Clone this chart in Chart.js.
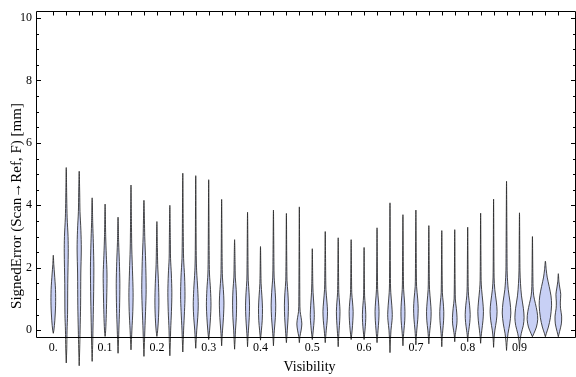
<!DOCTYPE html>
<html>
<head>
<meta charset="utf-8">
<script src="https://cdn.jsdelivr.net/npm/chart.js@4.4.1/dist/chart.umd.min.js"></script>
<style>
  html, body { margin: 0; padding: 0; background: #fff; }
  #wrap { width: 576px; height: 377px; position: relative; }
</style>
</head>
<body>
<div id="wrap"><canvas id="c"></canvas></div>
<script>
// ---- data ----
const visibility = [0.000,0.025,0.050,0.075,0.100,0.125,0.150,0.175,0.200,0.225,
                    0.250,0.275,0.300,0.325,0.350,0.375,0.400,0.425,0.450,0.475,
                    0.500,0.525,0.550,0.575,0.600,0.625,0.650,0.675,0.700,0.725,
                    0.750,0.775,0.800,0.825,0.850,0.875,0.900,0.925,0.950,0.975];
const errMin = [-0.10,-1.05,-1.14,-1.00,-0.20,-0.74,-0.63,-0.84,-0.20,-0.82,
                -0.70,-0.58,-0.30,-0.50,-0.61,-0.53,-0.32,-0.50,-0.40,-0.40,
                -0.30,-0.40,-0.53,-0.30,-0.30,-0.40,-0.72,-0.50,-0.47,-0.44,
                -0.53,-0.37,-0.37,-0.42,-0.55,-0.65,-0.61,-0.21,-0.21,-0.21];
const errMax = [2.40,5.21,5.09,4.24,4.04,3.62,4.65,4.16,3.48,4.00,
                5.03,4.95,4.82,4.19,2.90,3.78,2.68,3.85,3.74,3.95,
                2.61,3.16,2.96,2.90,2.65,3.28,4.08,3.70,3.85,3.35,
                3.19,3.22,3.30,3.75,4.20,4.77,3.76,3.00,2.21,1.81];
// density profile of each violin: [error value, relative density]
const density = [
  [[0,0.6],[0.3,1.5],[0.8,2.3],[1.3,2.2],[1.8,1.2],[2.1,0.5]],
  [[-0.6,0.5],[0,0.8],[0.5,1.3],[1.5,1.5],[2.5,2.0],[3.0,1.8],[3.6,0.9],[4.2,0.5]],
  [[-0.6,0.5],[0,0.9],[0.8,1.4],[1.8,1.6],[2.6,2.1],[3.2,1.7],[3.8,0.8],[4.4,0.5]],
  [[-0.5,0.5],[0,0.8],[1.0,1.4],[2.0,1.7],[2.8,1.2],[3.4,0.6]],
  [[0,0.6],[0.5,1.2],[1.2,1.7],[1.8,1.9],[2.4,1.2],[3.0,0.6]],
  [[-0.3,0.5],[0,0.8],[0.7,1.5],[1.5,1.8],[2.2,1.3],[2.8,0.6]],
  [[-0.3,0.5],[0,0.9],[0.6,1.8],[1.2,2.1],[1.9,1.5],[2.6,0.8],[3.3,0.5]],
  [[-0.4,0.5],[0,0.9],[0.6,1.6],[1.3,2.2],[2.2,1.7],[3.0,0.8],[3.5,0.5]],
  [[0,0.8],[0.4,1.6],[0.9,2.0],[1.5,1.6],[2.1,0.8],[2.6,0.5]],
  [[-0.4,0.5],[0,0.8],[0.6,1.6],[1.2,2.0],[1.8,1.5],[2.3,0.7],[2.9,0.5]],
  [[-0.3,0.5],[0,0.8],[0.6,1.7],[1.1,2.2],[1.7,1.8],[2.3,0.8],[3.0,0.5]],
  [[-0.3,0.5],[0,1.0],[0.4,2.0],[0.8,2.5],[1.3,2.0],[1.9,0.9],[2.4,0.5]],
  [[0,0.9],[0.4,1.8],[0.8,2.3],[1.3,1.8],[1.8,0.8],[2.4,0.5]],
  [[-0.2,0.5],[0,0.9],[0.4,1.8],[0.9,2.3],[1.3,1.7],[1.7,0.8],[2.2,0.5]],
  [[-0.3,0.5],[0,0.9],[0.4,1.7],[0.9,2.0],[1.3,1.6],[1.7,0.7],[2.1,0.5]],
  [[-0.2,0.5],[0,0.9],[0.4,1.7],[0.8,2.0],[1.2,1.5],[1.6,0.7],[2.0,0.5]],
  [[0,0.9],[0.3,1.7],[0.7,2.0],[1.1,1.4],[1.5,0.6]],
  [[-0.2,0.5],[0,0.9],[0.4,1.9],[0.8,2.3],[1.2,1.8],[1.7,0.7],[2.1,0.5]],
  [[-0.2,0.5],[0,0.9],[0.4,1.7],[0.8,2.0],[1.2,1.5],[1.6,0.6]],
  [[-0.2,0.6],[0,1.8],[0.2,2.5],[0.4,1.8],[0.6,0.8],[0.9,0.5]],
  [[0,1.0],[0.3,1.8],[0.5,2.0],[0.8,1.6],[1.2,0.8],[1.5,0.5]],
  [[-0.2,0.5],[0,1.0],[0.3,1.9],[0.6,2.3],[0.9,1.7],[1.3,0.7],[1.6,0.5]],
  [[-0.2,0.5],[0,0.9],[0.3,1.5],[0.6,1.8],[0.9,1.3],[1.2,0.6]],
  [[0,1.0],[0.3,1.7],[0.6,2.0],[0.9,1.4],[1.2,0.6]],
  [[0,0.9],[0.25,1.5],[0.5,1.7],[0.8,1.2],[1.1,0.5]],
  [[-0.2,0.5],[0,1.0],[0.3,1.7],[0.6,2.0],[0.9,1.5],[1.3,0.6]],
  [[-0.3,0.5],[0,1.0],[0.3,2.0],[0.5,2.3],[0.8,1.8],[1.2,0.8],[1.5,0.5]],
  [[-0.2,0.5],[0,1.0],[0.3,1.8],[0.6,2.0],[0.9,1.6],[1.3,0.7],[1.6,0.5]],
  [[-0.2,0.5],[0,0.9],[0.35,1.9],[0.7,2.3],[1.0,1.8],[1.4,0.7],[1.7,0.5]],
  [[-0.2,0.5],[0,1.0],[0.3,2.0],[0.6,2.3],[0.9,1.7],[1.3,0.7],[1.6,0.5]],
  [[-0.2,0.5],[0,1.0],[0.3,1.8],[0.6,2.0],[0.9,1.4],[1.2,0.6]],
  [[-0.15,0.5],[0,1.2],[0.2,2.1],[0.4,2.3],[0.7,1.6],[1.0,0.6]],
  [[-0.15,0.5],[0,1.1],[0.25,2.1],[0.5,2.5],[0.8,1.9],[1.1,0.9],[1.4,0.5]],
  [[-0.2,0.5],[0,1.2],[0.3,2.3],[0.6,2.8],[0.9,2.2],[1.3,1.0],[1.6,0.5]],
  [[-0.25,0.5],[0,1.3],[0.3,2.8],[0.6,3.5],[0.9,2.8],[1.3,1.2],[1.7,0.5]],
  [[-0.4,0.5],[-0.1,1.5],[0.2,3.2],[0.55,4.3],[0.9,3.5],[1.3,1.7],[1.8,0.7],[2.3,0.5]],
  [[-0.35,0.5],[-0.1,1.8],[0.15,3.8],[0.4,4.6],[0.7,3.9],[1.1,2.0],[1.5,1.0],[1.9,0.5]],
  [[-0.1,1.5],[0.1,4.0],[0.35,5.3],[0.6,4.6],[0.85,3.0],[1.1,1.3],[1.4,0.6]],
  [[-0.1,1.0],[0.1,3.0],[0.4,5.0],[0.8,6.2],[1.1,5.6],[1.4,3.8],[1.7,1.8],[1.95,0.8]],
  [[-0.05,1.2],[0.2,3.0],[0.45,3.3],[0.7,2.2],[0.9,2.0],[1.15,2.4],[1.35,1.5],[1.55,0.6]]
];
const xTickValues = [0,0.1,0.2,0.3,0.4,0.5,0.6,0.7,0.8,0.9];
const xTickLabels = ['0.','0.1','0.2','0.3','0.4','0.5','0.6','0.7','0.8','0.9'];
const yTickValues = [0,2,4,6,8,10];
const yTickLabels = ['0','2','4','6','8','10'];
const xTitle = 'Visibility';
const yTitle = 'SignedError (Scan\u2192Ref, F) [mm]';

// ---- style ----
const densityToX = 1/518;       // density unit -> visibility units (violin width)
const FONT = '"Liberation Serif", "Times New Roman", serif';
const fillColor = 'rgb(200,208,245)';
const edgeColor = 'rgba(40,40,40,0.85)';

const datasets = visibility.map((cx, i) => {
  const prof = [[errMin[i], 0]].concat(density[i], [[errMax[i], 0]]);
  const pts = [];
  prof.forEach(([v, w]) => pts.push({x: cx - w * densityToX, y: v}));
  for (let j = prof.length - 2; j >= 0; j--) {
    const [v, w] = prof[j];
    pts.push({x: cx + w * densityToX, y: v});
  }
  return {
    data: pts,
    showLine: true,
    fill: 'shape',
    backgroundColor: fillColor,
    borderColor: edgeColor,
    borderWidth: 1,
    pointRadius: 0,
    tension: 0.3,
    clip: false
  };
});

const framePlugin = {
  id: 'frame',
  afterDatasetsDraw(chart) {
    const {ctx, chartArea: a, scales: {x, y}} = chart;
    const L = Math.round(a.left) + 0.5, R = Math.round(a.right) - 0.5;
    const T = Math.round(a.top) + 0.5, B = Math.round(a.bottom) - 0.5;
    ctx.save();
    ctx.strokeStyle = '#000';
    ctx.lineWidth = 1;
    ctx.beginPath();
    ctx.moveTo(L, B); ctx.lineTo(L, T); ctx.lineTo(R, T); ctx.lineTo(R, B);
    ctx.moveTo(L, B); ctx.lineTo(R, B);
    for (let v = 0; v <= 10.001; v += 0.5) {
      const py = Math.round(y.getPixelForValue(v)) + 0.5;
      const len = yTickValues.includes(v) ? 4.5 : 2.5;
      ctx.moveTo(L, py); ctx.lineTo(L + len, py);
      ctx.moveTo(R, py); ctx.lineTo(R - len, py);
    }
    visibility.forEach(v => {
      const px = Math.round(x.getPixelForValue(v)) + 0.5;
      ctx.moveTo(px, T); ctx.lineTo(px, T + 4);
    });
    ctx.stroke();
    // vertical axis title, placed like the reference (lower than the frame centre)
    ctx.fillStyle = '#000';
    ctx.font = '15px ' + FONT;
    ctx.textAlign = 'center';
    ctx.textBaseline = 'middle';
    ctx.translate(17.5, 206);
    ctx.rotate(-Math.PI / 2);
    ctx.fillText(yTitle, 0, 0);
    ctx.restore();
  }
};

new Chart(document.getElementById('c'), {
  type: 'scatter',
  data: { datasets },
  options: {
    responsive: true,
    maintainAspectRatio: false,
    devicePixelRatio: 1,
    animation: false,
    events: [],
    layout: { padding: { top: 4, right: 0, left: 0, bottom: 0 } },
    elements: { line: { capBezierPoints: false } },
    plugins: { legend: { display: false }, tooltip: { enabled: false } },
    scales: {
      x: {
        type: 'linear',
        min: -0.0334, max: 1.0091,
        afterBuildTicks: s => { s.ticks = xTickValues.map(v => ({value: v})); },
        afterFit: s => { s.height = 39; },
        grid: { display: false, drawTicks: false },
        border: { display: false },
        ticks: {
          autoSkip: false, maxRotation: 0, padding: 3, color: '#000',
          font: { family: FONT, size: 12 },
          callback: (v, i) => xTickLabels[i]
        },
        title: {
          display: true, text: '  ' + xTitle, color: '#000',
          font: { family: FONT, size: 14 },
          padding: { top: 0, bottom: 1 }
        }
      },
      y: {
        type: 'linear',
        min: -0.251, max: 10.22,
        afterBuildTicks: s => { s.ticks = yTickValues.map(v => ({value: v})); },
        afterFit: s => { s.width = 36; },
        grid: { display: false, drawTicks: false },
        border: { display: false },
        ticks: {
          padding: 4, color: '#000',
          font: { family: FONT, size: 12 },
          callback: (v, i) => yTickLabels[i]
        },
        title: { display: false }
      }
    }
  },
  plugins: [framePlugin]
});
</script>
</body>
</html>
